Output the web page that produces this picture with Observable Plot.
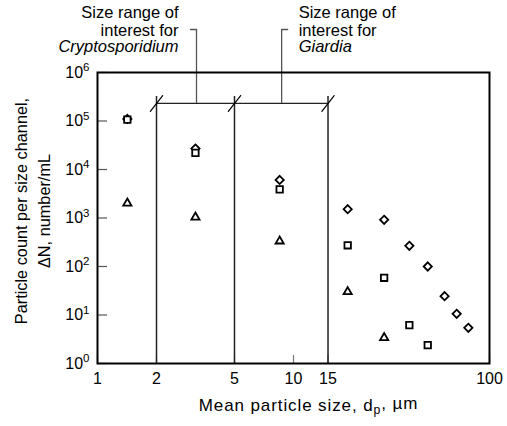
<!DOCTYPE html>
<html><head><meta charset="utf-8">
<script src="https://cdn.jsdelivr.net/npm/d3@7"></script>
<script src="https://cdn.jsdelivr.net/npm/@observablehq/plot@0.6"></script>
<style>
body{margin:0;background:#fff}
svg{font-family:"Liberation Sans",Arial,Helvetica,sans-serif}
</style>
</head><body><div id="chart"></div>
<script>
// ---- data ----
const diamondSize  = [1.42, 3.16, 8.5, 18.9, 29, 39, 48.4, 59, 68, 78];
const diamondCount = [1.1e5, 2.7e4, 6100, 1520, 920, 267, 100, 24.4, 10.6, 5.45];
const squareSize   = [1.42, 3.16, 8.5, 18.9, 29, 39, 48.4];
const squareCount  = [1.07e5, 2.2e4, 3900, 274, 58.5, 6.2, 2.4];
const triangleSize  = [1.42, 3.16, 8.5, 18.9, 29];
const triangleCount = [2020, 1040, 333, 30, 3.4];

const xTicks = [1, 2, 5, 10, 15, 100];
const yTicks = [1, 10, 100, 1000, 1e4, 1e5, 1e6];
const boundaries = [2, 5, 15];
const bracketLevel = 2.3e5;
const leaderTop = 7.7e6;
const annotations = [
  {organism: "Cryptosporidium", x: 3.2, side: "left"},
  {organism: "Giardia", x: 8.7, side: "right"}
];
const yTitleLines = ["Particle count per size channel,", "ΔN, number/mL"];
const xTitle = "Mean particle size, dp, µm";

const diamonds = diamondSize.map((x, i) => ({x, y: diamondCount[i]}));
const squares = squareSize.map((x, i) => ({x, y: squareCount[i]}));
const triangles = triangleSize.map((x, i) => ({x, y: triangleCount[i]}));

const W = 507, H = 426, mL = 97, mR = 18, mT = 72, mB = 63;
const innerW = W - mL - mR, innerH = H - mT - mB;
const font = '"Liberation Sans",Arial,Helvetica,sans-serif';

const annotMarks = annotations.flatMap(a => {
  const left = a.side === "left";
  const base = {x: "x", y: () => leaderTop, textAnchor: left ? "end" : "start", dx: left ? -18 : 17, fontSize: 16.5, fill: "black"};
  return [
    Plot.text([a], {...base, text: () => "Size range of", dy: -16.5}),
    Plot.text([a], {...base, text: () => "interest for", dy: 1}),
    Plot.text([a], {...base, text: d => d.organism, dy: 17.5, fontStyle: "italic"})
  ];
});

// y title anchored at the left edge of the frame, vertically at the log-centre of the domain
const yTitleMarks = yTitleLines.map((line, i) =>
  Plot.text([line], {x: () => 1, y: () => Math.sqrt(1 * 1e6), text: d => d, rotate: -90, dx: i === 0 ? -76 : -53, dy: -7, fontSize: 16.3, fill: "black"})
);

const plot = Plot.plot({
  width: W, height: H,
  marginLeft: mL, marginRight: mR, marginTop: mT, marginBottom: mB,
  style: {fontFamily: font, fontSize: "16px", color: "black", background: "white", overflow: "visible"},
  x: {type: "log", domain: [1, 100]},
  y: {type: "log", domain: [1, 1e6]},
  marks: [
    Plot.axisX({ticks: xTicks, tickSize: 0, tickPadding: 9, tickFormat: d => String(d), label: null, fontSize: 16}),
    Plot.axisY({ticks: yTicks, tickSize: 0, tickPadding: 8, tickFormat: d => "10" + Math.round(Math.log10(d)), label: null, fontSize: 16}),
    Plot.tickY(yTicks, {y: d => d, stroke: "#555", strokeWidth: 1.2, insetRight: innerW - 10}),
    Plot.tickX(xTicks, {x: d => d, stroke: "#777", strokeWidth: 1.2, insetTop: innerH - 8}),
    Plot.ruleX(boundaries, {x: d => d, y1: () => bracketLevel, y2: () => 1, insetTop: -7, stroke: "#222", strokeWidth: 1.5}),
    Plot.ruleY([bracketLevel], {y: d => d, x1: () => boundaries[0], x2: () => boundaries[boundaries.length - 1], stroke: "#222", strokeWidth: 1.3}),
    Plot.vector(boundaries, {x: d => d, y: () => bracketLevel, length: 20, rotate: 38, anchor: "middle", r: 0, stroke: "black", strokeWidth: 1.2}),
    Plot.ruleX(annotations, {x: "x", y1: () => leaderTop, y2: () => bracketLevel, stroke: "#555", strokeWidth: 1.3}),
    Plot.vector(annotations, {x: "x", y: () => leaderTop, length: 6, rotate: d => d.side === "left" ? -90 : 90, anchor: "start", r: 0, stroke: "#555", strokeWidth: 1.3}),
    ...annotMarks,
    Plot.frame({stroke: "black", strokeWidth: 2}),
    Plot.dot(diamonds, {x: "x", y: "y", symbol: "diamond2", r: 3.7, stroke: "black", strokeWidth: 1.8, fill: "white"}),
    Plot.dot(squares, {x: "x", y: "y", symbol: "square2", r: 4.1, stroke: "black", strokeWidth: 1.8, fill: "white"}),
    Plot.dot(triangles, {x: "x", y: "y", symbol: "triangle2", r: 3.9, stroke: "black", strokeWidth: 1.8, fill: "white"}),
    ...yTitleMarks,
    Plot.text({length: 1}, {frameAnchor: "bottom", dx: 15, dy: 47, text: () => xTitle, fontSize: 17, fill: "black"})
  ]
});

const svg = d3.select(plot);
svg.selectAll('g[aria-label="y-axis tick label"] text').each(function() {
  const t = this.textContent;
  const e = t.slice(2);
  const s = d3.select(this);
  s.text("10");
  s.append("tspan").attr("dy", "-0.55em").attr("font-size", "0.72em").text(e);
});
svg.selectAll("text").filter(function() { return this.textContent === xTitle; }).each(function() {
  const s = d3.select(this);
  s.attr("letter-spacing", "0.9px");
  s.text("Mean particle size, d");
  s.append("tspan").attr("dy", "0.3em").attr("font-size", "0.72em").text("p");
  s.append("tspan").attr("dy", "-0.3em").text(", µm");
});
document.getElementById("chart").appendChild(plot);
</script>
</body></html>
